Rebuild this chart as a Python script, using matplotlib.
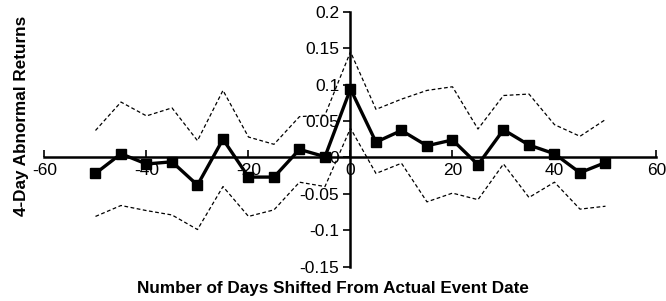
import matplotlib
matplotlib.use('Agg')
import matplotlib.pyplot as plt

plt.rcParams['font.family'] = ['Liberation Sans', 'DejaVu Sans']

# --- dati ---
giorni = [-50, -45, -40, -35, -30, -25, -20, -15, -10, -5, 0,
          5, 10, 15, 20, 25, 30, 35, 40, 45, 50]
rendimenti = [-0.022, 0.005, -0.009, -0.006, -0.038, 0.025, -0.027, -0.027, 0.011, 0.001, 0.094,
              0.021, 0.037, 0.016, 0.024, -0.010, 0.038, 0.017, 0.005, -0.021, -0.007]
banda_sup = [0.037, 0.076, 0.057, 0.068, 0.023, 0.092, 0.028, 0.018, 0.056, 0.058, 0.145,
             0.066, 0.080, 0.092, 0.097, 0.039, 0.085, 0.087, 0.045, 0.029, 0.052]
banda_inf = [-0.081, -0.066, -0.073, -0.079, -0.099, -0.040, -0.081, -0.072, -0.034, -0.040, 0.040,
             -0.022, -0.008, -0.061, -0.049, -0.058, -0.009, -0.055, -0.034, -0.071, -0.067]

xticks = [-60, -40, -20, 0, 20, 40, 60]
yticks = [-0.15, -0.1, -0.05, 0, 0.05, 0.1, 0.15, 0.2]

fig = plt.figure(figsize=(6.66, 3.01), dpi=100)
ax = fig.add_axes([0.0668, 0.114, 0.9189, 0.847])

ax.plot(giorni, banda_sup, color='black', linestyle=(0, (3, 2)), linewidth=0.9)
ax.plot(giorni, banda_inf, color='black', linestyle=(0, (3, 2)), linewidth=0.9)
ax.plot(giorni, rendimenti, color='black', linewidth=2.4, marker='s', markersize=7)

ax.set_xlim(-60, 60)
ax.set_ylim(-0.15, 0.2)

# assi che si incrociano nell'origine
ax.spines['left'].set_position(('data', 0))
ax.spines['bottom'].set_position(('data', 0))
ax.spines['right'].set_visible(False)
ax.spines['top'].set_visible(False)
ax.spines['left'].set_linewidth(1.8)
ax.spines['bottom'].set_linewidth(1.8)

ax.set_xticks(xticks)
ax.set_xticklabels([str(t) for t in xticks])
ax.set_yticks(yticks)
ax.set_yticklabels(['-0.15', '-0.1', '-0.05', '0', '0.05', '0.1', '0.15', '0.2'])
ax.tick_params(axis='x', direction='in', length=5, width=1.2, labelsize=12.5, pad=4)
ax.tick_params(axis='y', direction='out', length=5, width=1.2, labelsize=12.5, pad=3)

fig.text(0.033, 0.615, '4-Day Abnormal Returns', rotation=90, ha='center', va='center',
         fontsize=12.3, fontweight='bold')
fig.text(0.50, 0.043, 'Number of Days Shifted From Actual Event Date', ha='center', va='center',
         fontsize=12.3, fontweight='bold')

plt.savefig('out.png', dpi=100)
